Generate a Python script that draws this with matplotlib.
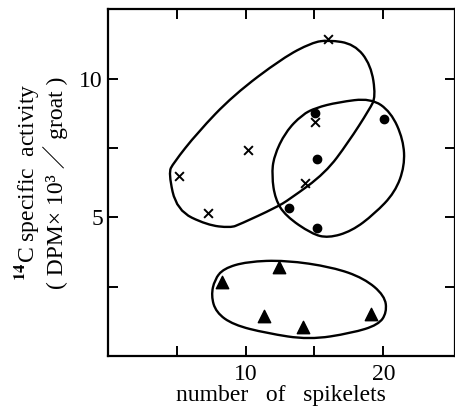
import matplotlib.pyplot as plt
from matplotlib.path import Path
from matplotlib.patches import PathPatch

plt.rcParams['font.family'] = ['Liberation Serif', 'DejaVu Serif']
plt.rcParams['mathtext.fontset'] = 'stix'

# crosses
cross_x = [16.0, 15.05, 10.2, 5.2, 14.3, 7.3]
cross_y = [11.45, 8.45, 7.42, 6.5, 6.22, 5.15]
# filled circles
dot_x = [20.05, 15.05, 15.2, 13.15, 15.15]
dot_y = [8.56, 8.78, 7.12, 5.35, 4.6]
# triangles
tri_x = [12.4, 8.3, 11.35, 14.2, 19.1]
tri_y = [3.2, 2.68, 1.45, 1.03, 1.5]

# hand-drawn group outlines (control points)
out1 = [(16.0, 11.4), (17.9, 11.25), (19.1, 10.5), (19.45, 9.35), (19.0, 8.9),
        (17.45, 7.7), (15.8, 6.6), (13.2, 5.65), (12.2, 5.35), (9.6, 4.75),
        (8.9, 4.62), (7.2, 4.72), (5.0, 5.25), (4.4, 6.6), (4.75, 6.95),
        (6.5, 8.05), (9.1, 9.4), (12.7, 10.75), (14.8, 11.3)]
out2 = [(15.1, 8.95), (16.7, 9.15), (19.1, 9.3), (20.55, 8.8), (21.45, 7.8),
        (21.55, 6.85), (20.85, 5.9), (19.35, 5.12), (17.7, 4.5), (16.0, 4.25),
        (14.8, 4.4), (12.9, 5.05), (12.15, 5.65), (11.9, 6.5), (12.05, 7.2),
        (12.9, 8.08), (14.1, 8.7)]
out3 = [(8.4, 3.15), (10.1, 3.4), (12.9, 3.45), (16.3, 3.2), (18.6, 2.8),
        (20.1, 2.17), (20.25, 1.57), (19.65, 1.12), (17.7, 0.82), (14.6, 0.58),
        (11.5, 0.82), (9.1, 1.12), (7.85, 1.57), (7.5, 2.17), (7.75, 2.75)]


def closed_curve(pts):
    # quadratic beziers through midpoints, control points are the given vertices
    n = len(pts)
    mids = [((pts[i][0] + pts[(i + 1) % n][0]) / 2, (pts[i][1] + pts[(i + 1) % n][1]) / 2)
            for i in range(n)]
    verts = [mids[-1]]
    codes = [Path.MOVETO]
    for i in range(n):
        verts += [pts[i], mids[i]]
        codes += [Path.CURVE3, Path.CURVE3]
    return Path(verts, codes)


fig = plt.figure(figsize=(4.55, 4.09), dpi=100)
ax = fig.add_axes([0.237, 0.13, 0.763, 0.847])

for o in (out1, out2, out3):
    ax.add_patch(PathPatch(closed_curve(o), facecolor='none', edgecolor='black', lw=1.7))

ax.scatter(cross_x, cross_y, marker='x', s=40, color='black', linewidths=1.4, zorder=3)
ax.scatter(dot_x, dot_y, marker='o', s=36, color='black', zorder=3)
ax.scatter(tri_x, tri_y, marker='^', s=80, color='black', zorder=3)

ax.set_xlim(0, 25.2)
ax.set_ylim(0, 12.5)
ax.set_xticks([10, 20])
ax.set_xticks([5, 15], minor=True)
ax.set_yticks([5, 10])
ax.set_yticks([2.5, 7.5], minor=True)
ax.tick_params(which='both', direction='in', top=True, right=True, length=7, width=1.4,
               labelsize=17)
ax.tick_params(axis='x', pad=6)
for s in ax.spines.values():
    s.set_linewidth(1.6)

ax.set_xlabel('number   of   spikelets', fontsize=17, labelpad=0)
ax.set_ylabel('$^{\\mathbf{14}}$C specific  activity\n( DPM\u00d7 10\u00b3 \uff0f groat )',
              fontsize=17, labelpad=8, linespacing=1.1,
              family=['Liberation Serif', 'Noto Sans CJK JP'])

fig.savefig('out.png', dpi=100)
